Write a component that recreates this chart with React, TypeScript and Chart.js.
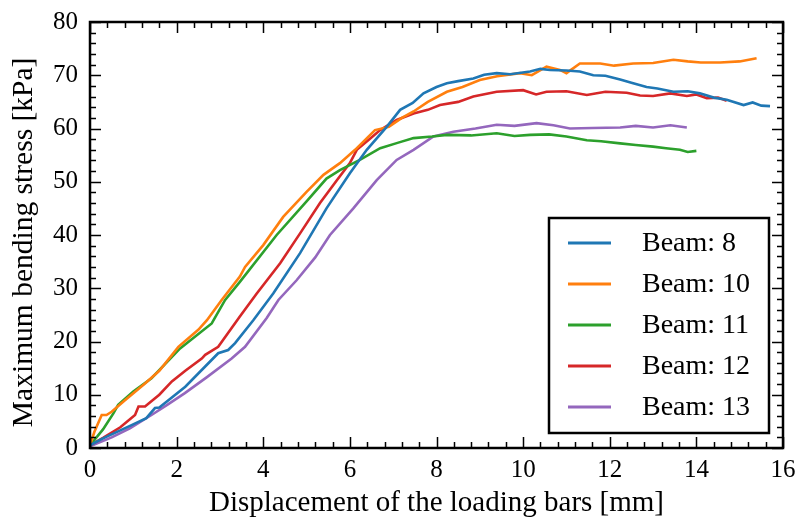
import React, { useEffect, useRef } from "react";
import { Chart, registerables } from "chart.js";

Chart.register(...registerables);

const seriesLabels = ["Beam: 8", "Beam: 10", "Beam: 11", "Beam: 12", "Beam: 13"];
const seriesColors = ["#1f77b4", "#ff7f0e", "#2ca02c", "#d62728", "#9467bd"];

const xTickValues = [0, 2, 4, 6, 8, 10, 12, 14, 16];
const yTickValues = [0, 10, 20, 30, 40, 50, 60, 70, 80];

const beam8X = [0, 0.3, 0.96, 1.3, 1.5, 1.6, 2.2, 2.96, 3.19, 3.35, 3.77, 4.23, 4.85, 5.46, 6.0, 6.39, 6.85, 7.16, 7.45, 7.7, 8.0, 8.24, 8.5, 8.85, 9.1, 9.39, 9.7, 10.16, 10.4, 10.62, 11.0, 11.31, 11.62, 11.9, 12.24, 12.5, 12.85, 13.1, 13.47, 13.8, 14.08, 14.4, 14.7, 15.09, 15.3, 15.5, 15.7];
const beam8Y = [0.5, 1.8, 4.3, 5.6, 7.5, 7.6, 11.5, 17.8, 18.4, 19.7, 24.0, 29.0, 36.6, 45.0, 51.6, 56.0, 60.3, 63.5, 64.8, 66.6, 67.8, 68.5, 68.9, 69.4, 70.1, 70.4, 70.2, 70.7, 71.2, 71.0, 70.9, 70.7, 70.0, 69.9, 69.2, 68.6, 67.8, 67.5, 66.9, 67.0, 66.6, 65.8, 65.4, 64.4, 64.9, 64.3, 64.2];

const beam10X = [0, 0.1, 0.27, 0.38, 0.5, 0.8, 1.27, 1.6, 2.04, 2.5, 2.7, 3.04, 3.46, 3.58, 4.0, 4.46, 5.0, 5.39, 5.77, 6.12, 6.58, 6.9, 7.2, 7.47, 7.8, 8.24, 8.6, 9.0, 9.4, 9.93, 10.2, 10.54, 10.85, 11.0, 11.31, 11.78, 12.1, 12.54, 13.0, 13.47, 13.8, 14.1, 14.55, 15.0, 15.39];
const beam10Y = [0.5, 3.0, 6.2, 6.2, 6.8, 8.9, 12.1, 14.5, 19.0, 22.2, 24.0, 27.8, 32.2, 34.0, 38.1, 43.4, 48.1, 51.3, 53.5, 56.0, 59.7, 60.3, 62.0, 63.2, 65.0, 66.9, 67.8, 69.1, 69.8, 70.4, 70.0, 71.6, 71.0, 70.4, 72.2, 72.2, 71.8, 72.2, 72.3, 72.9, 72.6, 72.4, 72.4, 72.6, 73.2];

const beam11X = [0, 0.04, 0.3, 0.54, 0.65, 1.0, 1.42, 2.08, 2.81, 3.12, 3.46, 4.31, 5.0, 5.46, 5.77, 6.23, 6.7, 7.1, 7.47, 7.9, 8.24, 8.8, 9.39, 9.8, 10.16, 10.6, 11.0, 11.47, 11.8, 12.24, 12.6, 13.0, 13.3, 13.62, 13.8, 14.0];
const beam11Y = [0.5, 0.9, 3.5, 6.5, 8.1, 10.6, 13.1, 18.7, 23.4, 27.8, 31.2, 40.0, 46.3, 50.6, 52.2, 54.1, 56.3, 57.3, 58.2, 58.5, 58.8, 58.7, 59.1, 58.6, 58.8, 58.9, 58.5, 57.8, 57.6, 57.2, 56.9, 56.6, 56.3, 56.0, 55.6, 55.8];

const beam12X = [0, 0.3, 0.7, 1.04, 1.12, 1.27, 1.6, 1.89, 2.2, 2.58, 2.66, 2.96, 3.46, 3.85, 4.39, 4.85, 5.31, 5.7, 6.0, 6.16, 6.45, 6.7, 7.08, 7.47, 7.8, 8.08, 8.5, 8.85, 9.39, 10.0, 10.3, 10.54, 11.0, 11.47, 11.9, 12.39, 12.7, 13.0, 13.4, 13.78, 14.0, 14.24, 14.5, 14.7];
const beam12Y = [0.5, 1.9, 3.9, 6.2, 7.8, 7.8, 10.0, 12.5, 14.5, 16.8, 17.5, 19.0, 24.7, 29.0, 34.7, 40.3, 46.0, 50.3, 53.5, 56.0, 58.0, 59.7, 61.6, 62.8, 63.5, 64.4, 65.0, 66.0, 66.9, 67.2, 66.4, 66.9, 67.0, 66.3, 66.9, 66.7, 66.2, 66.1, 66.6, 66.1, 66.4, 65.7, 65.8, 65.2];

const beam13X = [0, 0.5, 0.92, 1.42, 1.8, 2.19, 2.7, 3.27, 3.58, 4.08, 4.35, 4.77, 5.2, 5.54, 6.08, 6.62, 7.08, 7.47, 7.93, 8.39, 8.9, 9.39, 9.8, 10.31, 10.7, 11.08, 11.6, 12.24, 12.6, 13.0, 13.4, 13.78];
const beam13Y = [0.3, 2.0, 3.7, 6.2, 8.2, 10.3, 13.3, 16.8, 19.0, 24.4, 27.8, 31.5, 35.8, 40.0, 45.0, 50.3, 54.1, 56.0, 58.5, 59.4, 60.0, 60.7, 60.5, 61.0, 60.6, 60.0, 60.1, 60.2, 60.5, 60.2, 60.6, 60.2];

const seriesX = [beam8X, beam10X, beam11X, beam12X, beam13X];
const seriesY = [beam8Y, beam10Y, beam11Y, beam12Y, beam13Y];

const FONT = "'Liberation Serif', 'Times New Roman', 'DejaVu Serif', serif";

const frameTicksPlugin = {
  id: "frameTicks",
  afterDatasetsDraw(chart: any) {
    const { ctx, chartArea } = chart;
    const xs = chart.scales.x;
    const ys = chart.scales.y;
    const { left, right, top, bottom } = chartArea;
    ctx.save();
    ctx.strokeStyle = "#000";
    ctx.lineWidth = 1.5;
    const major = 11;
    const minor = 6;
    ctx.beginPath();
    for (let v = 0; v <= 16.0001; v += 0.4) {
      const isMajor = Math.abs(v / 2 - Math.round(v / 2)) < 1e-6;
      const len = isMajor ? major : minor;
      const px = Math.round(xs.getPixelForValue(v)) + 0.5;
      ctx.moveTo(px, bottom);
      ctx.lineTo(px, bottom - len);
      ctx.moveTo(px, top);
      ctx.lineTo(px, top + len);
    }
    for (let v = 0; v <= 80.0001; v += 2) {
      const isMajor = Math.abs(v / 10 - Math.round(v / 10)) < 1e-6;
      const len = isMajor ? major : minor;
      const py = Math.round(ys.getPixelForValue(v)) + 0.5;
      ctx.moveTo(left, py);
      ctx.lineTo(left + len, py);
      ctx.moveTo(right, py);
      ctx.lineTo(right - len, py);
    }
    ctx.stroke();
    ctx.lineWidth = 2.5;
    ctx.strokeRect(left, top, right - left, bottom - top);

    // legend
    const bw = 220;
    const bh = 215;
    const bx = right - 14 - bw;
    const by = bottom - 15 - bh;
    ctx.fillStyle = "#fff";
    ctx.fillRect(bx, by, bw, bh);
    ctx.lineWidth = 2.5;
    ctx.strokeStyle = "#000";
    ctx.strokeRect(bx, by, bw, bh);
    ctx.font = `28px ${FONT}`;
    ctx.textBaseline = "middle";
    ctx.textAlign = "left";
    chart.data.datasets.forEach((ds: any, i: number) => {
      const cy = by + 25 + i * 41;
      ctx.strokeStyle = ds.borderColor;
      ctx.lineWidth = 3;
      ctx.beginPath();
      ctx.moveTo(bx + 19, cy);
      ctx.lineTo(bx + 62, cy);
      ctx.stroke();
      ctx.fillStyle = "#000";
      ctx.fillText(ds.label, bx + 93, cy + 1);
    });
    ctx.restore();
  },
};

export default function App() {
  const canvasRef = useRef<HTMLCanvasElement | null>(null);

  useEffect(() => {
    document.body.style.margin = "0";
    const canvas = canvasRef.current;
    if (!canvas) return;
    const datasets = seriesLabels.map((label, i) => ({
      label,
      data: seriesX[i].map((x, j) => ({ x, y: seriesY[i][j] })),
      borderColor: seriesColors[i],
      backgroundColor: seriesColors[i],
      borderWidth: 2.6,
      pointRadius: 0,
      tension: 0,
      fill: false,
    }));
    const chart = new Chart(canvas, {
      type: "line",
      data: { datasets },
      options: {
        animation: false,
        responsive: false,
        maintainAspectRatio: false,
        layout: { padding: { top: 22, right: 12, left: 0, bottom: 0 } },
        plugins: { legend: { display: false }, tooltip: { enabled: false } },
        scales: {
          x: {
            type: "linear",
            min: 0,
            max: 16,
            afterBuildTicks: (scale: any) => {
              scale.ticks = xTickValues.map((v) => ({ value: v }));
            },
            afterFit: (scale: any) => {
              scale.height = 74;
              scale.paddingLeft = 0;
              scale.paddingRight = 0;
            },
            grid: { display: false, drawTicks: false },
            border: { display: false },
            ticks: {
              color: "#000",
              padding: 7,
              maxRotation: 0,
              font: { family: FONT, size: 25 },
            },
            title: {
              display: true,
              text: "Displacement of the loading bars [mm]",
              color: "#000",
              font: { family: FONT, size: 29 },
              padding: { top: 0, bottom: 1 },
            },
          },
          y: {
            type: "linear",
            min: 0,
            max: 80,
            afterBuildTicks: (scale: any) => {
              scale.ticks = yTickValues.map((v) => ({ value: v }));
            },
            afterFit: (scale: any) => {
              scale.width = 90;
              scale.paddingTop = 0;
              scale.paddingBottom = 0;
            },
            grid: { display: false, drawTicks: false },
            border: { display: false },
            ticks: {
              color: "#000",
              padding: 12,
              font: { family: FONT, size: 25 },
            },
            title: {
              display: true,
              text: "Maximum bending stress [kPa]\u00A0\u00A0",
              color: "#000",
              font: { family: FONT, size: 29.5 },
              padding: { top: 7, bottom: 0 },
            },
          },
        },
      },
      plugins: [frameTicksPlugin],
    });
    return () => chart.destroy();
  }, []);

  return (
    <div style={{ width: 795, height: 522, background: "#fff" }}>
      <canvas ref={canvasRef} width={795} height={522} style={{ display: "block" }} />
    </div>
  );
}
